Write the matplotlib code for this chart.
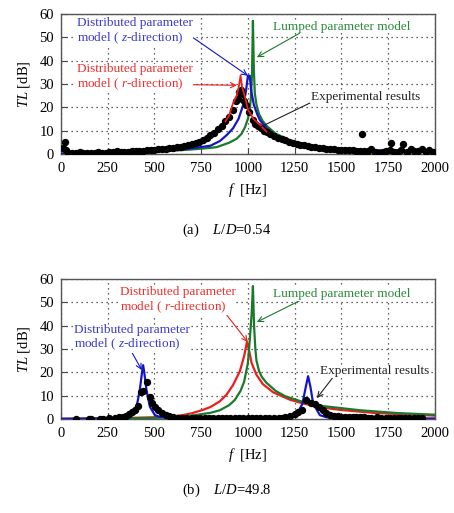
import numpy as np
import matplotlib
matplotlib.use('Agg')
import matplotlib.pyplot as plt

plt.rcParams['font.family'] = ['Liberation Serif', 'DejaVu Serif']
plt.rcParams['mathtext.fontset'] = 'custom'
plt.rcParams['mathtext.rm'] = 'Liberation Serif'
plt.rcParams['mathtext.it'] = 'Liberation Serif:italic'

# ---- panel (a) L/D=0.54 ----
a_lump_f = [0, 200, 400, 600, 700, 800, 833, 900, 940, 966, 985, 1000, 1010, 1016, 1022, 1027,
            1032, 1037, 1046, 1060, 1080, 1100, 1150, 1225, 1300, 1367, 1500, 1750, 2000]
a_lump_tl = [0.1, 0.3, 0.7, 1.4, 1.9, 2.6, 2.9, 4.8, 6.5, 8.6, 11.5, 15, 19, 24, 34, 57,
             36, 26, 21, 17, 14, 12, 8.6, 5.9, 4.2, 3.1, 2.1, 1.4, 1.0]

a_z_f = [0, 200, 400, 600, 700, 800, 850, 886, 921, 950, 975, 990, 1000, 1010, 1015,
         1020, 1032, 1050, 1064, 1100, 1153, 1250, 1400, 1600, 1800, 2000]
a_z_tl = [0.1, 0.3, 0.8, 1.7, 2.4, 3.5, 5.5, 8, 11, 15, 21, 27, 33.5, 33.5, 29,
          26, 21, 17, 14.5, 11, 7.5, 4.6, 2.8, 1.7, 1.2, 0.9]

a_r_f = [880, 900, 920, 940, 952, 961, 968, 984, 1000, 1030, 1064, 1100]
a_r_tl = [14, 16.5, 21.6, 25, 29, 33.6, 29, 24.6, 19, 15, 12.5, 9.5]

a_exp_f = [10, 20, 30, 40, 60, 80, 100, 120, 140, 160, 180, 200, 220, 240, 260, 280, 300,
           320, 340, 360, 380, 400, 420, 440, 460, 480, 500, 520, 540, 560, 580, 600, 620,
           640, 660, 680, 700, 720, 740, 760, 780, 800, 820, 840, 860, 880, 900, 920, 935,
           945, 955, 962, 970, 980, 990, 1005, 1025, 1040, 1055, 1070, 1085, 1100, 1120,
           1140, 1160, 1180, 1200, 1220, 1240, 1260, 1280, 1300, 1320, 1340, 1360, 1380,
           1400, 1420, 1440, 1460, 1480, 1500, 1520, 1540, 1560, 1580, 1600, 1610, 1620,
           1640, 1660, 1680, 1700, 1720, 1740, 1760, 1765, 1780, 1800, 1820, 1830, 1850,
           1870, 1890, 1910, 1930, 1950, 1970, 1990]
a_exp_tl = [2.5, 5.0, 1.5, 0.5, 0.3, 0.2, 0.8, 0.3, 0.2, 0.3, 0.4, 1.0, 0.5, 0.5, 0.6, 0.7,
            1.3, 0.8, 0.9, 1.0, 1.1, 1.2, 1.3, 1.4, 1.5, 1.7, 1.8, 2.0, 2.1, 2.3, 2.5, 2.7,
            2.9, 3.1, 3.4, 3.8, 4.2, 4.7, 5.3, 6.0, 7.0, 8.0, 9.0, 10.5, 12.0, 14.0, 16.0,
            19.0, 22.5, 23.5, 26.5, 27.5, 25.5, 22.5, 21.0, 18.0, 14.5, 13.0, 12.0, 11.0,
            10.0, 9.3, 8.5, 7.8, 7.0, 6.3, 5.8, 5.2, 4.8, 4.3, 3.9, 3.6, 3.3, 3.0, 2.8, 2.6,
            2.4, 2.2, 2.1, 2.0, 1.8, 1.7, 1.6, 1.5, 1.5, 1.4, 1.3, 8.5, 1.3, 1.2, 2.0, 1.0,
            0.5, 0.6, 1.2, 1.5, 4.8, 1.0, 0.6, 1.5, 4.2, 1.0, 2.2, 1.4, 1.2, 2.0, 1.0, 1.8,
            0.9]

# ---- panel (b) L/D=49.8 ----
b_lump_f = [0, 300, 500, 600, 700, 800, 850, 900, 930, 960, 980, 1000, 1010, 1020, 1027,
            1033, 1040, 1046, 1060, 1075, 1100, 1150, 1200, 1300, 1400, 1600, 1800, 2000]
b_lump_tl = [0.1, 0.3, 0.5, 0.9, 1.5, 2.7, 3.8, 6.0, 8.2, 12, 16, 24, 34, 45, 57,
             40, 30, 25, 20.5, 18, 15.5, 12, 9.8, 7.2, 5.6, 3.8, 2.6, 1.9]

b_r_f = [0, 300, 500, 600, 650, 700, 761, 800, 850, 886, 920, 957, 980, 995, 1005,
         1020, 1046, 1080, 1135, 1225, 1300, 1403, 1500, 1669, 1850, 2000]
b_r_tl = [0.1, 0.4, 0.8, 1.2, 1.7, 2.5, 4.0, 5.2, 7.6, 10.5, 14.5, 20.5, 27, 33, 30,
          24, 19, 15, 11.5, 8.3, 6.6, 4.9, 3.9, 2.7, 2.0, 1.5]

b_z_f = [0, 200, 300, 350, 378, 405, 422, 434, 440, 446, 458, 476, 503, 530, 600,
         800, 1000, 1200, 1260, 1292, 1310, 1322, 1334, 1349, 1385, 1420, 1500, 1700, 2000]
b_z_tl = [0.1, 0.2, 0.4, 0.8, 1.7, 5.3, 12.4, 20, 23.1, 20, 12.4, 5.3, 1.7, 0.9, 0.4,
          0.2, 0.2, 0.3, 1.7, 6.7, 14, 18.4, 14, 6.7, 1.7, 0.8, 0.4, 0.3, 0.3]

b_exp_f = [80, 150, 160, 210, 225, 260, 290, 310, 330, 350, 365, 380, 395, 410, 431,
           440, 458, 476, 490, 503, 520, 540, 560, 580, 600, 625, 650, 670, 700, 720,
           745, 770, 790, 815, 840, 860, 885, 905, 930, 955, 975, 1000, 1020, 1045,
           1065, 1090, 1115, 1140, 1165, 1180, 1200, 1225, 1250, 1270, 1290, 1310, 1340,
           1360, 1380, 1400, 1420, 1440, 1460, 1480, 1500, 1520, 1540, 1560, 1580, 1600,
           1620, 1640, 1660, 1690, 1710, 1740, 1760, 1780, 1800, 1820, 1840, 1860, 1890,
           1910, 1930]
b_exp_tl = [0.1, 0.1, 0.1, 0.2, 0.2, 0.4, 0.6, 0.8, 1.0, 1.5, 2.2, 3.0, 4.0, 5.5, 11.7,
            12.0, 16.0, 9.6, 7.0, 5.3, 3.8, 2.6, 1.8, 1.2, 0.8, 0.6, 0.5, 0.4, 0.3, 0.3,
            0.3, 0.3, 0.3, 0.3, 0.3, 0.3, 0.3, 0.3, 0.3, 0.3, 0.3, 0.3, 0.3, 0.3, 0.3,
            0.3, 0.3, 0.3, 0.3, 0.5, 0.8, 1.2, 2.0, 3.0, 4.0, 8.0, 7.0, 6.5, 5.0, 3.8,
            2.5, 1.8, 1.5, 1.2, 1.0, 0.9, 0.8, 0.8, 0.7, 0.7, 0.7, 0.6, 0.6, 1.0, 0.6,
            0.6, 0.5, 0.5, 0.5, 0.5, 0.5, 0.5, 0.5, 0.5, 0.3]

BLUE = '#1414c8'
RED = '#ee1c1c'
GREEN = '#187a2a'
BLUE_T = '#3a3ad0'
RED_T = '#ee3030'
GREEN_T = '#2a8a3a'
FS_NOTE = 9.5

fig = plt.figure(figsize=(4.54, 5.13), dpi=100)
ax_a = fig.add_axes([0.134, 0.700, 0.824, 0.273])
ax_b = fig.add_axes([0.134, 0.183, 0.824, 0.273])


def style_axes(ax):
    ax.set_xlim(0, 2000)
    ax.set_ylim(0, 60)
    ax.set_xticks(np.arange(0, 2001, 250))
    ax.set_yticks(np.arange(0, 61, 10))
    ax.grid(True, color='#333333', linestyle=(0, (1, 3)), linewidth=0.9)
    ax.tick_params(direction='in', labelsize=10.5, length=4, color='#444444')
    ax.tick_params(axis='x', pad=6)
    ax.tick_params(axis='y', pad=5)
    for s in ax.spines.values():
        s.set_color('#555555')
        s.set_linewidth(1.0)
    ax.set_xlabel('$f$  [Hz]', fontsize=10.5, labelpad=4)
    ax.set_ylabel('$TL$ [dB]', fontsize=10.5, labelpad=5)


def note(ax, text, xy, xytext, color, acolor, va='top', relpos=(1, 0.5), style='->'):
    ax.annotate(text, xy=xy, xytext=xytext, color=color, fontsize=FS_NOTE, va=va,
                ha='left', linespacing=1.1, zorder=6,
                bbox=dict(boxstyle='square,pad=0.05', fc='white', ec='none'),
                arrowprops=dict(arrowstyle=style, color=acolor, lw=0.8, shrinkA=0,
                                shrinkB=0, relpos=relpos))


# panel (a)
ax = ax_a
ax.plot(a_lump_f, a_lump_tl, color=GREEN, lw=1.6, zorder=3)
ax.plot(a_z_f, a_z_tl, color=BLUE, lw=1.6, zorder=3)
ax.plot(a_exp_f, a_exp_tl, 'o', color='black', ms=4.3, zorder=4)
ax.plot(a_r_f, a_r_tl, color=RED, lw=1.3, zorder=5)
style_axes(ax)
note(ax, 'Distributed parameter\nmodel ( $z$-direction)', (1000, 33.5), (85, 58.5),
     BLUE_T, BLUE, relpos=(1.0, 0.3))
note(ax, 'Distributed parameter\nmodel ( $r$-direction)', (941, 29.4), (85, 38.8),
     RED_T, RED, relpos=(1.0, 0.25))
note(ax, 'Lumped parameter model', (1048, 41.4), (1135, 54.5), GREEN_T, GREEN,
     va='center', relpos=(0.2, 0.0))
note(ax, 'Experimental results', (1064, 11.4), (1335, 24.5), '#222222', '#222222',
     va='center', relpos=(0.0, 0.0), style='-')
fig.text(0.50, 1 - 230 / 513, '(a)    $L/D$=0.54', ha='center', va='center', fontsize=10.5)

# panel (b)
ax = ax_b
ax.plot(b_r_f, b_r_tl, color=RED, lw=1.6, zorder=3)
ax.plot(b_lump_f, b_lump_tl, color=GREEN, lw=1.6, zorder=3)
ax.plot(b_z_f, b_z_tl, color=BLUE, lw=1.6, zorder=3)
ax.plot(b_exp_f, b_exp_tl, 'o', color='black', ms=4.3, zorder=4)
style_axes(ax)
note(ax, 'Distributed parameter\nmodel ( $r$-direction)', (1000, 33), (315, 57),
     RED_T, RED, relpos=(0.92, 0.0))
note(ax, 'Distributed parameter\nmodel ( $z$-direction)', (433, 21), (70, 40.8),
     BLUE_T, BLUE, relpos=(0.5, 0.0))
note(ax, 'Lumped parameter model', (1048, 41.6), (1135, 53.5), GREEN_T, GREEN,
     va='center', relpos=(0.2, 0.0))
note(ax, 'Experimental results', (1369, 9), (1385, 20.5), '#222222', '#222222',
     va='center', relpos=(0.12, 0.0))
fig.text(0.50, 1 - 490 / 513, '(b)    $L/D$=49.8', ha='center', va='center', fontsize=10.5)

fig.savefig('out.png', dpi=100)
